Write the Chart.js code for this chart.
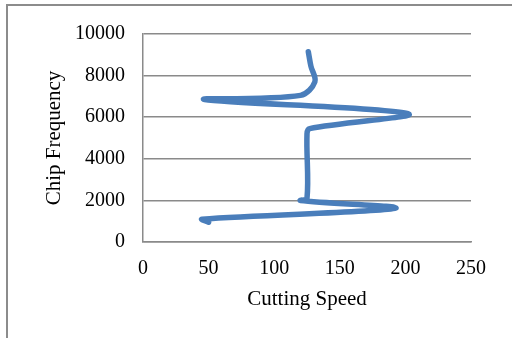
<!DOCTYPE html>
<html>
<head>
<meta charset="utf-8">
<script src="https://cdn.jsdelivr.net/npm/chart.js@4/dist/chart.umd.min.js"></script>
<style>
  html, body { margin: 0; padding: 0; background: #fff; overflow: hidden; }
  #wrap { position: relative; width: 512px; height: 338px; }
  #frame { position: absolute; left: 6px; top: 4px; width: 600px; height: 400px;
           border-left: 2px solid #8c8c8c; border-top: 2px solid #8c8c8c; box-sizing: border-box; }
  canvas { position: absolute; left: 0; top: 0; }
</style>
</head>
<body>
<div id="wrap">
  <div id="frame"></div>
  <canvas id="c" width="512" height="338"></canvas>
</div>
<script>
// Data
const cuttingSpeed  = [50, 45, 192, 120, 125, 125, 127, 202, 47, 120, 131, 128, 126];
const chipFrequency = [950, 1100, 1620, 2000, 2100, 5200, 5450, 6170, 6850, 7050, 7700, 8450, 9150];
const xTicks = [0, 50, 100, 150, 200, 250];
const yTicks = [0, 2000, 4000, 6000, 8000, 10000];
const xTitle = 'Cutting Speed';
const yTitle = 'Chip Frequency';

const points = cuttingSpeed.map((x, i) => ({ x: x, y: chipFrequency[i] }));
const FAMILY = '"Liberation Serif", "Times New Roman", serif';
const FONT = { family: FAMILY, size: 20 };
const TFONT = { family: FAMILY, size: 21 };
const GRID = '#8a8a8a';

new Chart(document.getElementById('c'), {
  type: 'scatter',
  data: {
    datasets: [{
      data: points,
      showLine: true,
      borderColor: '#4a7ebb',
      backgroundColor: '#4a7ebb',
      borderWidth: 5.5,
      pointRadius: 0,
      tension: 0.35,
      borderCapStyle: 'round',
      borderJoinStyle: 'round'
    }]
  },
  options: {
    responsive: false,
    animation: false,
    layout: { padding: { left: 0, top: 34, right: 41, bottom: 0 } },
    plugins: { legend: { display: false }, tooltip: { enabled: false } },
    scales: {
      x: {
        type: 'linear',
        min: xTicks[0], max: xTicks[xTicks.length - 1],
        afterBuildTicks: s => { s.ticks = xTicks.map(v => ({ value: v })); },
        afterFit: s => { s.height = 96; },
        grid: { display: false, drawTicks: false },
        border: { display: true, color: GRID, width: 1.5 },
        ticks: { font: FONT, color: '#000', padding: 15, maxRotation: 0, callback: v => String(v) },
        title: { display: true, text: xTitle, font: TFONT, color: '#000', padding: { top: 26, bottom: 26 } }
      },
      y: {
        type: 'linear',
        min: yTicks[0], max: yTicks[yTicks.length - 1],
        afterBuildTicks: s => { s.ticks = yTicks.map(v => ({ value: v })); },
        afterFit: s => { s.width = 143; },
        grid: { display: true, color: GRID, lineWidth: 1.5, drawTicks: false },
        border: { display: true, color: GRID, width: 1.5 },
        ticks: { font: FONT, color: '#000', padding: 18, callback: v => String(v) },
        title: { display: true, text: yTitle, font: TFONT, color: '#000', padding: { top: 42, bottom: 0 } }
      }
    }
  }
});
</script>
</body>
</html>
